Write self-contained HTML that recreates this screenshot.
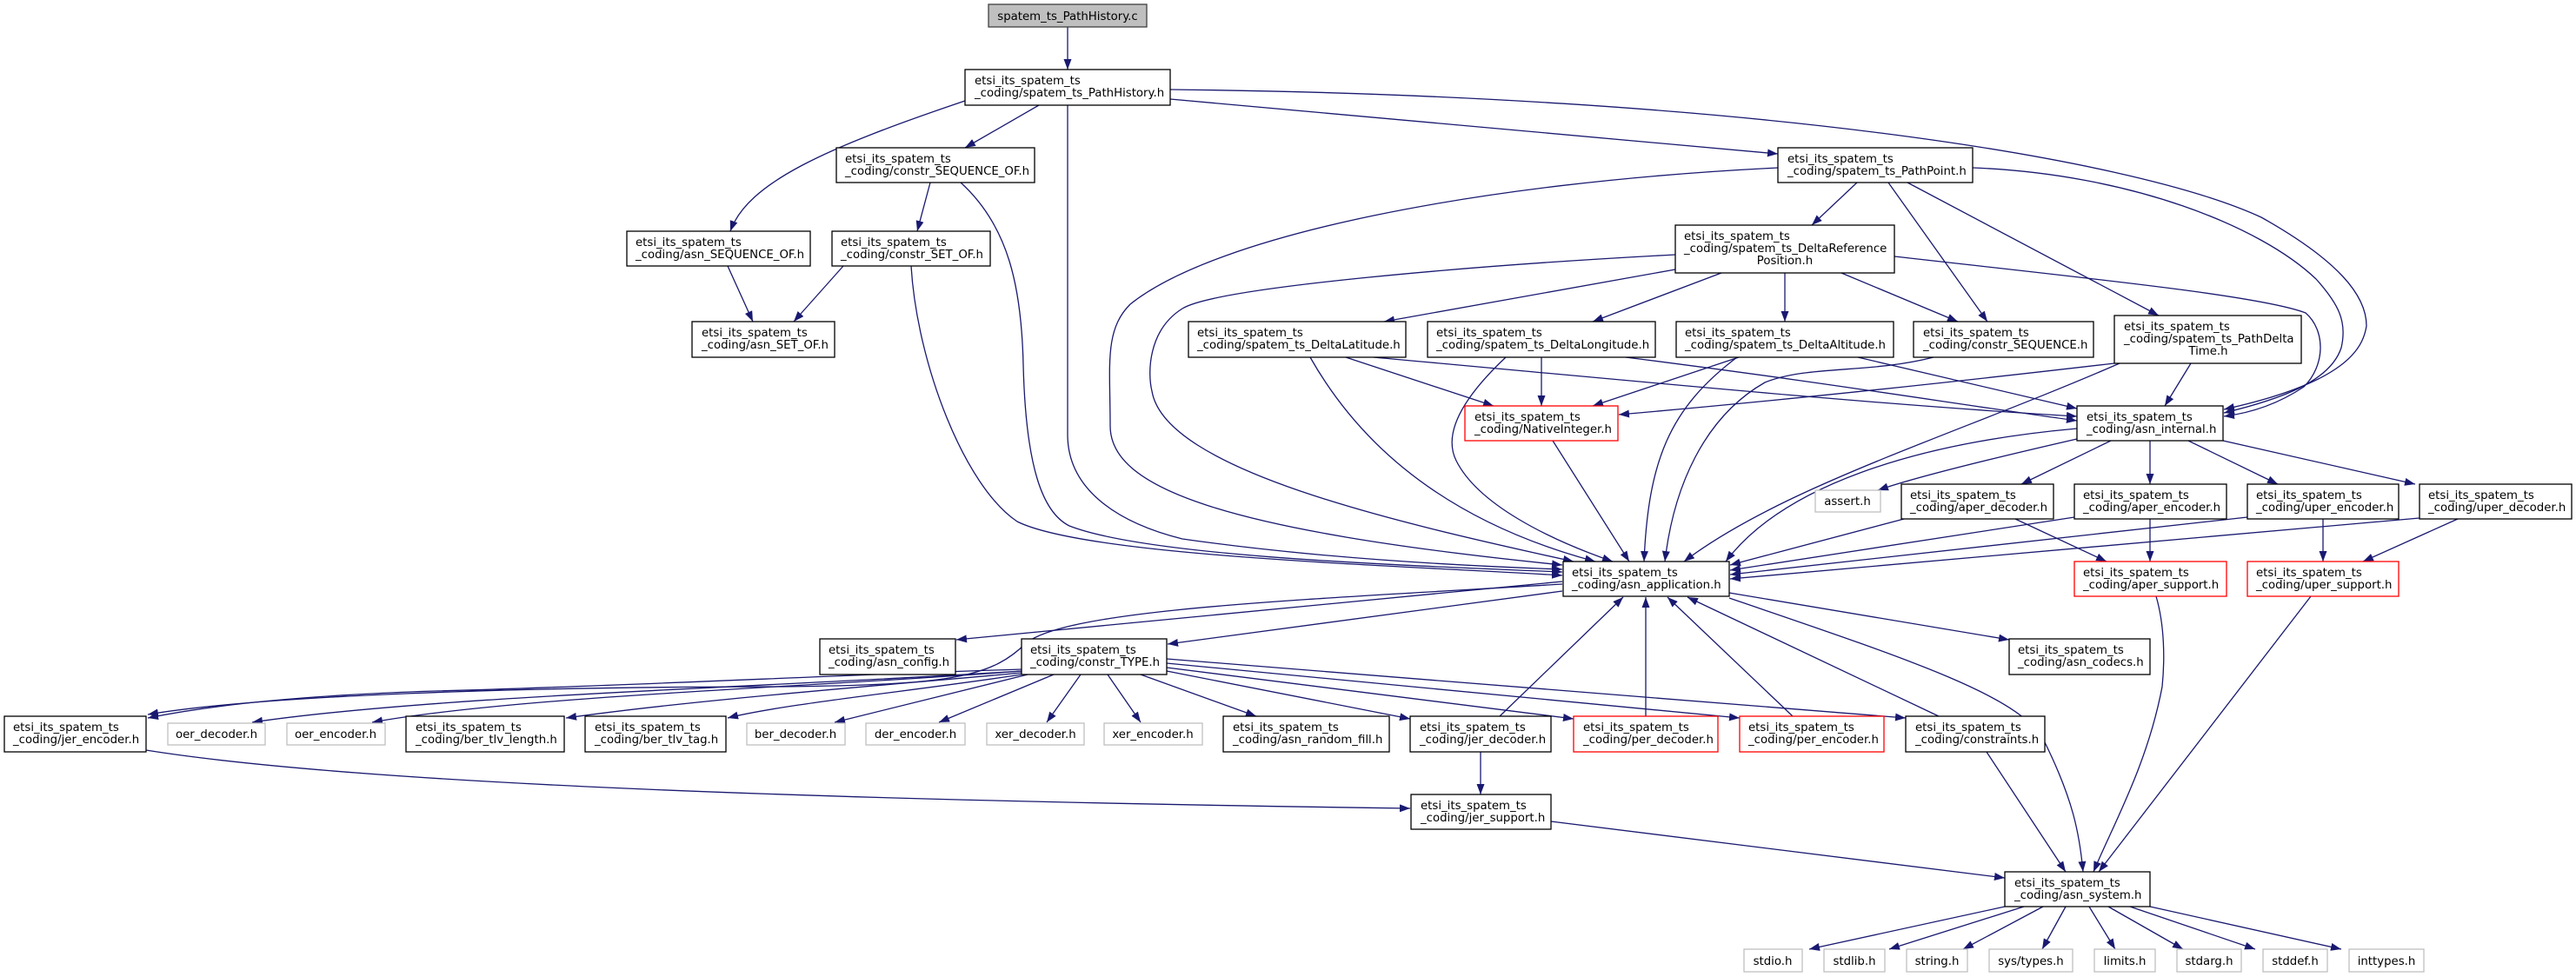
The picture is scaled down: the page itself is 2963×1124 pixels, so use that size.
<!DOCTYPE html>
<html><head><meta charset="utf-8"><style>
html,body{margin:0;padding:0;background:#fff;}
svg{display:block;}
text{font-family:"DejaVu Sans","Liberation Sans",sans-serif;font-size:13.3px;fill:#000;}
.n{fill:#fff;stroke:#000;stroke-width:1.3;}
.g{fill:#fff;stroke:#bfbfbf;stroke-width:1.3;}
.r{fill:#fff;stroke:#ff0000;stroke-width:1.3;}
.e{fill:none;stroke:#191970;stroke-width:1.3;marker-end:url(#a);}
</style></head><body>
<svg width="2963" height="1124" viewBox="0 0 2963 1124" xmlns="http://www.w3.org/2000/svg">
<defs><marker id="a" markerUnits="userSpaceOnUse" markerWidth="13" markerHeight="10" refX="12" refY="4.5" orient="auto"><path d="M0,0 L12,4.5 L0,9 z" fill="#191970"/></marker></defs>

<!-- edges -->
<path class="e" d="M1228 31 L1228 80"/>
<path class="e" d="M1110 116 C950 170 860 210 840 266"/>
<path class="e" d="M1195 121 L1110 170"/>
<path class="e" d="M1346 114 L2045 177"/>
<path class="e" d="M1346 103 C2000 110 2450 180 2601 250 C2690 300 2722 340 2722 375 C2718 400 2700 440 2558 471"/>
<path class="e" d="M837 306 L866 370"/>
<path class="e" d="M1070 210 L1055 266"/>
<path class="e" d="M970 306 L913 370"/>
<path class="e" d="M1048 306 C1055 420 1110 560 1170 600 C1250 640 1600 650 1797 662"/>
<path class="e" d="M1105 210 C1160 260 1175 330 1177 420 C1180 540 1200 590 1230 605 C1320 640 1600 650 1797 658"/>
<path class="e" d="M1228 121 L1228 500 C1228 560 1280 600 1360 620 C1500 640 1650 650 1797 655"/>
<path class="e" d="M2045 193 C1700 210 1400 270 1300 350 C1270 380 1277 420 1277 490 C1277 560 1400 610 1797 650"/>
<path class="e" d="M2136 210 L2084 259"/>
<path class="e" d="M2172 210 L2286 370"/>
<path class="e" d="M2194 210 L2483 363"/>
<path class="e" d="M2269 193 C2450 200 2600 260 2664 321 C2690 350 2700 370 2693 400 C2680 440 2620 460 2558 475"/>
<path class="e" d="M1927 310 L1592 370"/>
<path class="e" d="M1980 314 L1832 370"/>
<path class="e" d="M2053 314 L2053 370"/>
<path class="e" d="M2118 314 L2252 370"/>
<path class="e" d="M2179 295 C2400 320 2600 340 2652 360 C2675 380 2675 420 2650 445 C2620 465 2590 475 2558 479"/>
<path class="e" d="M1927 293 C1700 305 1400 330 1360 355 C1320 380 1320 430 1325 450 C1340 540 1600 600 1810 646"/>
<path class="e" d="M1548 411 L1718 467"/>
<path class="e" d="M1773 411 L1773 467"/>
<path class="e" d="M2000 411 L1832 467"/>
<path class="e" d="M2432 418 C2200 445 2000 465 1862 477"/>
<path class="e" d="M1580 411 C1900 440 2150 465 2389 479"/>
<path class="e" d="M1870 411 C2100 440 2250 465 2389 484"/>
<path class="e" d="M2137 411 L2389 470"/>
<path class="e" d="M2520 418 L2490 467"/>
<path class="e" d="M1507 411 C1580 540 1700 610 1835 646"/>
<path class="e" d="M1732 411 C1680 460 1660 500 1675 530 C1700 580 1780 620 1855 646"/>
<path class="e" d="M1786 507 L1874 646"/>
<path class="e" d="M1998 411 C1920 470 1896 530 1891 646"/>
<path class="e" d="M2224 411 C2150 430 2080 420 2030 440 C1960 480 1925 560 1915 646"/>
<path class="e" d="M2438 418 C2250 500 2050 560 1937 646"/>
<path class="e" d="M2389 493 C2200 510 2050 560 1985 646"/>
<path class="e" d="M2389 505 C2280 530 2200 550 2160 564"/>
<path class="e" d="M2428 507 L2325 557"/>
<path class="e" d="M2473 507 L2473 557"/>
<path class="e" d="M2517 507 L2620 557"/>
<path class="e" d="M2557 507 L2778 557"/>
<path class="e" d="M2190 597 L1990 650"/>
<path class="e" d="M2386 595 L1990 656"/>
<path class="e" d="M2585 595 L1990 661"/>
<path class="e" d="M2783 596 L1990 666"/>
<path class="e" d="M2318 597 L2423 646"/>
<path class="e" d="M2473 597 L2473 646"/>
<path class="e" d="M2672 597 L2672 646"/>
<path class="e" d="M2827 597 L2718 646"/>
<path class="e" d="M2480 686 C2490 720 2490 760 2487 790 C2470 880 2430 950 2408 1003"/>
<path class="e" d="M2658 686 L2414 1003"/>
<path class="e" d="M1989 682 L2311 736"/>
<path class="e" d="M1989 688 C2200 760 2320 800 2350 850 C2385 920 2392 960 2396 1003"/>
<path class="e" d="M1797 669 L1100 736"/>
<path class="e" d="M1797 680 L1343 741"/>
<path class="e" d="M1797 672 C1500 690 1230 700 1180 740 C1140 780 1090 788 900 790 C600 790 300 800 170 822"/>
<path class="e" d="M1175 770 C1000 775 700 790 500 795 C350 800 250 810 170 826"/>
<path class="e" d="M1175 772 C900 790 500 800 290 831"/>
<path class="e" d="M1175 772 C950 790 600 800 428 831"/>
<path class="e" d="M1175 774 C1000 790 800 805 651 826"/>
<path class="e" d="M1175 776 C1050 795 900 810 837 826"/>
<path class="e" d="M1182 776 L960 831"/>
<path class="e" d="M1212 776 L1080 831"/>
<path class="e" d="M1243 776 L1204 831"/>
<path class="e" d="M1274 776 L1312 831"/>
<path class="e" d="M1312 776 L1445 824"/>
<path class="e" d="M1342 772 L1622 827"/>
<path class="e" d="M1342 768 L1810 827"/>
<path class="e" d="M1342 763 L2001 826"/>
<path class="e" d="M1342 758 L2192 826"/>
<path class="e" d="M1725 824 L1867 687"/>
<path class="e" d="M1893 824 L1893 687"/>
<path class="e" d="M2062 824 L1918 687"/>
<path class="e" d="M2230 824 L1941 687"/>
<path class="e" d="M2285 865 L2376 1003"/>
<path class="e" d="M1703 865 L1703 914"/>
<path class="e" d="M1784 945 L2306 1010"/>
<path class="e" d="M168 863 C400 900 900 920 1622 930"/>
<path class="e" d="M2306 1043 L2081 1092"/>
<path class="e" d="M2328 1043 L2173 1092"/>
<path class="e" d="M2350 1043 L2258 1092"/>
<path class="e" d="M2376 1043 L2349 1092"/>
<path class="e" d="M2403 1043 L2433 1092"/>
<path class="e" d="M2425 1043 L2511 1092"/>
<path class="e" d="M2450 1043 L2594 1092"/>
<path class="e" d="M2473 1043 L2693 1092"/>

<!-- nodes -->
<rect x="1137" y="5" width="182" height="26" fill="#bfbfbf" stroke="#404040" stroke-width="1.3"/><text x="1228" y="23" text-anchor="middle">spatem_ts_PathHistory.c</text>

<rect class="n" x="1110" y="80" width="236" height="41"/><text x="1121" y="97">etsi_its_spatem_ts</text><text x="1121" y="111">_coding/spatem_ts_PathHistory.h</text>
<rect class="n" x="962" y="170" width="228" height="40"/><text x="972" y="187">etsi_its_spatem_ts</text><text x="972" y="201">_coding/constr_SEQUENCE_OF.h</text>
<rect class="n" x="957" y="266" width="182" height="40"/><text x="967" y="283">etsi_its_spatem_ts</text><text x="967" y="297">_coding/constr_SET_OF.h</text>
<rect class="n" x="721" y="266" width="211" height="40"/><text x="731" y="283">etsi_its_spatem_ts</text><text x="731" y="297">_coding/asn_SEQUENCE_OF.h</text>
<rect class="n" x="796" y="370" width="164" height="41"/><text x="807" y="387">etsi_its_spatem_ts</text><text x="807" y="401">_coding/asn_SET_OF.h</text>
<rect class="n" x="2045" y="170" width="224" height="40"/><text x="2056" y="187">etsi_its_spatem_ts</text><text x="2056" y="201">_coding/spatem_ts_PathPoint.h</text>
<rect class="n" x="1927" y="259" width="252" height="55"/><text x="1937" y="276">etsi_its_spatem_ts</text><text x="1937" y="290">_coding/spatem_ts_DeltaReference</text><text x="2053" y="304" text-anchor="middle">Position.h</text>
<rect class="n" x="1367" y="370" width="250" height="41"/><text x="1377" y="387">etsi_its_spatem_ts</text><text x="1377" y="401">_coding/spatem_ts_DeltaLatitude.h</text>
<rect class="n" x="1642" y="370" width="262" height="41"/><text x="1652" y="387">etsi_its_spatem_ts</text><text x="1652" y="401">_coding/spatem_ts_DeltaLongitude.h</text>
<rect class="n" x="1928" y="370" width="250" height="41"/><text x="1938" y="387">etsi_its_spatem_ts</text><text x="1938" y="401">_coding/spatem_ts_DeltaAltitude.h</text>
<rect class="n" x="2201" y="370" width="207" height="41"/><text x="2212" y="387">etsi_its_spatem_ts</text><text x="2212" y="401">_coding/constr_SEQUENCE.h</text>
<rect class="n" x="2432" y="363" width="215" height="55"/><text x="2443" y="380">etsi_its_spatem_ts</text><text x="2443" y="394">_coding/spatem_ts_PathDelta</text><text x="2540" y="408" text-anchor="middle">Time.h</text>
<rect class="r" x="1685" y="467" width="176" height="40"/><text x="1696" y="484">etsi_its_spatem_ts</text><text x="1696" y="498">_coding/NativeInteger.h</text>
<rect class="n" x="2389" y="467" width="168" height="40"/><text x="2400" y="484">etsi_its_spatem_ts</text><text x="2400" y="498">_coding/asn_internal.h</text>

<rect class="g" x="2088" y="564" width="75" height="25"/><text x="2125" y="581" text-anchor="middle">assert.h</text>
<rect class="n" x="2187" y="557" width="175" height="40"/><text x="2197" y="574">etsi_its_spatem_ts</text><text x="2197" y="588">_coding/aper_decoder.h</text>
<rect class="n" x="2386" y="557" width="175" height="40"/><text x="2396" y="574">etsi_its_spatem_ts</text><text x="2396" y="588">_coding/aper_encoder.h</text>
<rect class="n" x="2585" y="557" width="174" height="40"/><text x="2595" y="574">etsi_its_spatem_ts</text><text x="2595" y="588">_coding/uper_encoder.h</text>
<rect class="n" x="2783" y="557" width="175" height="40"/><text x="2793" y="574">etsi_its_spatem_ts</text><text x="2793" y="588">_coding/uper_decoder.h</text>
<rect class="r" x="2386" y="646" width="175" height="40"/><text x="2396" y="663">etsi_its_spatem_ts</text><text x="2396" y="677">_coding/aper_support.h</text>
<rect class="r" x="2585" y="646" width="174" height="40"/><text x="2595" y="663">etsi_its_spatem_ts</text><text x="2595" y="677">_coding/uper_support.h</text>

<rect class="n" x="1798" y="646" width="191" height="40"/><text x="1808" y="663">etsi_its_spatem_ts</text><text x="1808" y="677">_coding/asn_application.h</text>
<rect class="n" x="943" y="735" width="156" height="41"/><text x="953" y="752">etsi_its_spatem_ts</text><text x="953" y="766">_coding/asn_config.h</text>
<rect class="n" x="1175" y="735" width="167" height="41"/><text x="1185" y="752">etsi_its_spatem_ts</text><text x="1185" y="766">_coding/constr_TYPE.h</text>
<rect class="n" x="2311" y="735" width="162" height="41"/><text x="2321" y="752">etsi_its_spatem_ts</text><text x="2321" y="766">_coding/asn_codecs.h</text>

<rect class="n" x="5" y="824" width="163" height="41"/><text x="15" y="841">etsi_its_spatem_ts</text><text x="15" y="855">_coding/jer_encoder.h</text>
<rect class="g" x="193" y="832" width="112" height="25"/><text x="249" y="849" text-anchor="middle">oer_decoder.h</text>
<rect class="g" x="330" y="832" width="113" height="25"/><text x="386" y="849" text-anchor="middle">oer_encoder.h</text>
<rect class="n" x="467" y="824" width="182" height="41"/><text x="478" y="841">etsi_its_spatem_ts</text><text x="478" y="855">_coding/ber_tlv_length.h</text>
<rect class="n" x="673" y="824" width="162" height="41"/><text x="684" y="841">etsi_its_spatem_ts</text><text x="684" y="855">_coding/ber_tlv_tag.h</text>
<rect class="g" x="859" y="832" width="113" height="25"/><text x="915" y="849" text-anchor="middle">ber_decoder.h</text>
<rect class="g" x="996" y="832" width="114" height="25"/><text x="1053" y="849" text-anchor="middle">der_encoder.h</text>
<rect class="g" x="1135" y="832" width="112" height="25"/><text x="1191" y="849" text-anchor="middle">xer_decoder.h</text>
<rect class="g" x="1270" y="832" width="113" height="25"/><text x="1326" y="849" text-anchor="middle">xer_encoder.h</text>
<rect class="n" x="1407" y="824" width="191" height="41"/><text x="1418" y="841">etsi_its_spatem_ts</text><text x="1418" y="855">_coding/asn_random_fill.h</text>
<rect class="n" x="1622" y="824" width="162" height="41"/><text x="1633" y="841">etsi_its_spatem_ts</text><text x="1633" y="855">_coding/jer_decoder.h</text>
<rect class="r" x="1810" y="824" width="166" height="41"/><text x="1821" y="841">etsi_its_spatem_ts</text><text x="1821" y="855">_coding/per_decoder.h</text>
<rect class="r" x="2001" y="824" width="166" height="41"/><text x="2011" y="841">etsi_its_spatem_ts</text><text x="2011" y="855">_coding/per_encoder.h</text>
<rect class="n" x="2192" y="824" width="160" height="41"/><text x="2203" y="841">etsi_its_spatem_ts</text><text x="2203" y="855">_coding/constraints.h</text>
<rect class="n" x="1623" y="914" width="161" height="40"/><text x="1634" y="931">etsi_its_spatem_ts</text><text x="1634" y="945">_coding/jer_support.h</text>
<rect class="n" x="2306" y="1003" width="167" height="40"/><text x="2317" y="1020">etsi_its_spatem_ts</text><text x="2317" y="1034">_coding/asn_system.h</text>

<rect class="g" x="2006" y="1092" width="67" height="26"/><text x="2039" y="1110" text-anchor="middle">stdio.h</text>
<rect class="g" x="2098" y="1092" width="70" height="26"/><text x="2133" y="1110" text-anchor="middle">stdlib.h</text>
<rect class="g" x="2193" y="1092" width="70" height="26"/><text x="2228" y="1110" text-anchor="middle">string.h</text>
<rect class="g" x="2288" y="1092" width="96" height="26"/><text x="2336" y="1110" text-anchor="middle">sys/types.h</text>
<rect class="g" x="2409" y="1092" width="70" height="26"/><text x="2444" y="1110" text-anchor="middle">limits.h</text>
<rect class="g" x="2504" y="1092" width="74" height="26"/><text x="2541" y="1110" text-anchor="middle">stdarg.h</text>
<rect class="g" x="2603" y="1092" width="74" height="26"/><text x="2640" y="1110" text-anchor="middle">stddef.h</text>
<rect class="g" x="2702" y="1092" width="86" height="26"/><text x="2745" y="1110" text-anchor="middle">inttypes.h</text>
</svg>
</body></html>
